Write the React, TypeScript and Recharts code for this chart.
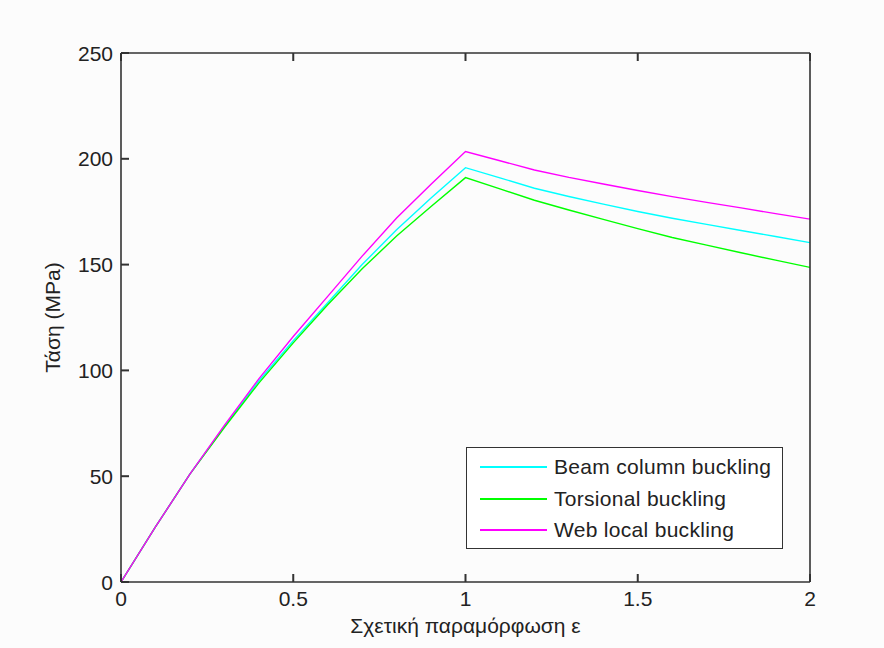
import React from "react";
import { LineChart, Line, XAxis, YAxis, Legend } from "recharts";

const strain = [0, 0.1, 0.2, 0.3, 0.4, 0.5, 0.6, 0.7, 0.8, 0.9, 1.0, 1.1, 1.2, 1.3, 1.4, 1.5, 1.6, 1.7, 1.8, 1.9, 2.0];
const beamColumn = [0, 26, 51, 73.5, 95, 114, 132, 150, 166.5, 181.5, 195.8, 191.0, 186.1, 182.2, 178.6, 175.1, 171.9, 169.0, 166.1, 163.3, 160.4];
const torsional = [0, 26, 51, 73, 94, 113, 131, 148, 163.5, 177.5, 191.1, 185.8, 180.4, 175.8, 171.4, 167.0, 162.8, 159.2, 155.6, 152.1, 148.7];
const webLocal = [0, 26, 51, 74, 96, 116, 135, 154, 172, 188, 203.4, 199.1, 194.7, 191.2, 188.1, 185.0, 182.1, 179.4, 176.8, 174.1, 171.5];

const xTicks = [0, 0.5, 1, 1.5, 2];
const yTicks = [0, 50, 100, 150, 200, 250];

const seriesNames = ["Beam column buckling", "Torsional buckling", "Web local buckling"];
const seriesKeys = ["beam", "tors", "web"];
const seriesColors = ["#00FFFF", "#00FF00", "#FF00FF"];

const xLabel = "Σχετική παραμόρφωση ε";
const yLabel = "Τάση (MPa)";

const data = strain.map((x, i) => ({ x, beam: beamColumn[i], tors: torsional[i], web: webLocal[i] }));

const FONT = "'Liberation Sans', Arial, sans-serif";
const FS = 21;
const AX = "#333333";
const AXW = 1.6;
const TICK_LEN = 8;
const TICK_COLOR = AX;

const BottomTick = (props: any) => {
  const { x, y, payload } = props;
  return (
    <g>
      <rect x={x - 1} y={y - TICK_LEN} width={2} height={TICK_LEN} fill={TICK_COLOR} />
      <text x={x} y={y + 24} textAnchor="middle" fontFamily={FONT} fontSize={FS} fill="#222">
        {String(payload.value)}
      </text>
    </g>
  );
};

const TopTick = (props: any) => {
  const { x, y } = props;
  return (
    <g>
      <rect x={x - 1} y={y} width={2} height={TICK_LEN} fill={TICK_COLOR} />
      <text x={x} y={y} fontSize={1} fill="none">{" "}</text>
    </g>
  );
};

const LeftTick = (props: any) => {
  const { x, y, payload } = props;
  return (
    <g>
      <rect x={x} y={y - 1} width={TICK_LEN} height={2} fill={TICK_COLOR} />
      <text x={x - 8} y={y + 7.5} textAnchor="end" fontFamily={FONT} fontSize={FS} fill="#222">
        {String(payload.value)}
      </text>
    </g>
  );
};

const RightTick = (props: any) => {
  const { x, y } = props;
  return (
    <g>
      <rect x={x - TICK_LEN} y={y - 1} width={TICK_LEN} height={2} fill={TICK_COLOR} />
      <text x={x} y={y} fontSize={1} fill="none">{" "}</text>
    </g>
  );
};

const XTitle = (props: any) => {
  const vb = props.viewBox || {};
  const cx = vb.x + vb.width / 2;
  return (
    <text x={cx} y={vb.y + 51} textAnchor="middle" fontFamily={FONT} fontSize={FS} fill="#222">
      {xLabel}
    </text>
  );
};

const YTitle = (props: any) => {
  const vb = props.viewBox || {};
  const cy = vb.y + vb.height / 2;
  const right = vb.x + vb.width;
  const tx = right - 61;
  return (
    <text x={tx} y={cy} textAnchor="middle" fontFamily={FONT} fontSize={FS} fill="#222" transform={`rotate(-90, ${tx}, ${cy})`}>
      {yLabel}
    </text>
  );
};

const LegendBox = () => (
  <div
    style={{
      width: 315,
      height: 100,
      border: `1.5px solid ${AX}`,
      background: "#ffffff",
      position: "relative",
      fontFamily: FONT,
      fontSize: FS,
      color: "#222",
    }}
  >
    {seriesNames.map((name, i) => (
      <div key={name} style={{ position: "absolute", left: 0, top: 19 + i * 31.5 - 15, height: 30, display: "flex", alignItems: "center" }}>
        <div style={{ marginLeft: 13, width: 67, height: 2, background: seriesColors[i] }} />
        <div style={{ marginLeft: 7, letterSpacing: 0.3, whiteSpace: "nowrap", lineHeight: "30px" }}>{name}</div>
      </div>
    ))}
  </div>
);

const axisLineStyle = { stroke: AX, strokeWidth: AXW };

export default function App() {
  return (
    <div style={{ position: "absolute", left: 0, top: 0, width: 884, height: 648, background: "#fcfcfc" }}>
      <LineChart width={884} height={648} data={data} margin={{ top: 52, right: 73, bottom: 36, left: 61 }}>
        <XAxis
          dataKey="x"
          type="number"
          domain={[0, 2]}
          ticks={xTicks}
          height={30}
          tickSize={0}
          tickMargin={0}
          tickLine={false}
          axisLine={axisLineStyle}
          tick={<BottomTick />}
          interval={0}
          allowDataOverflow
          label={<XTitle />}
        />
        <XAxis
          xAxisId="top"
          orientation="top"
          dataKey="x"
          type="number"
          domain={[0, 2]}
          ticks={xTicks}
          height={1}
          tickSize={0}
          tickMargin={0}
          tickLine={false}
          axisLine={axisLineStyle}
          tick={<TopTick />}
          interval={0}
        />
        <YAxis
          type="number"
          domain={[0, 250]}
          ticks={yTicks}
          width={60}
          tickSize={0}
          tickMargin={0}
          tickLine={false}
          axisLine={axisLineStyle}
          tick={<LeftTick />}
          interval={0}
          allowDataOverflow
          label={<YTitle />}
        />
        <YAxis
          yAxisId="right"
          orientation="right"
          type="number"
          domain={[0, 250]}
          ticks={yTicks}
          width={1}
          tickSize={0}
          tickMargin={0}
          tickLine={false}
          axisLine={axisLineStyle}
          tick={<RightTick />}
          interval={0}
        />
        {seriesKeys.map((k, i) => (
          <Line
            key={k}
            dataKey={k}
            name={seriesNames[i]}
            stroke={seriesColors[i]}
            strokeWidth={1.4}
            dot={false}
            type="linear"
            isAnimationActive={false}
          />
        ))}
        <Legend
          layout="vertical"
          verticalAlign="middle"
          align="center"
          content={<LegendBox />}
          wrapperStyle={{ position: "absolute", left: 466, top: 447, width: 317, height: 102, margin: 0 }}
        />
      </LineChart>
    </div>
  );
}
